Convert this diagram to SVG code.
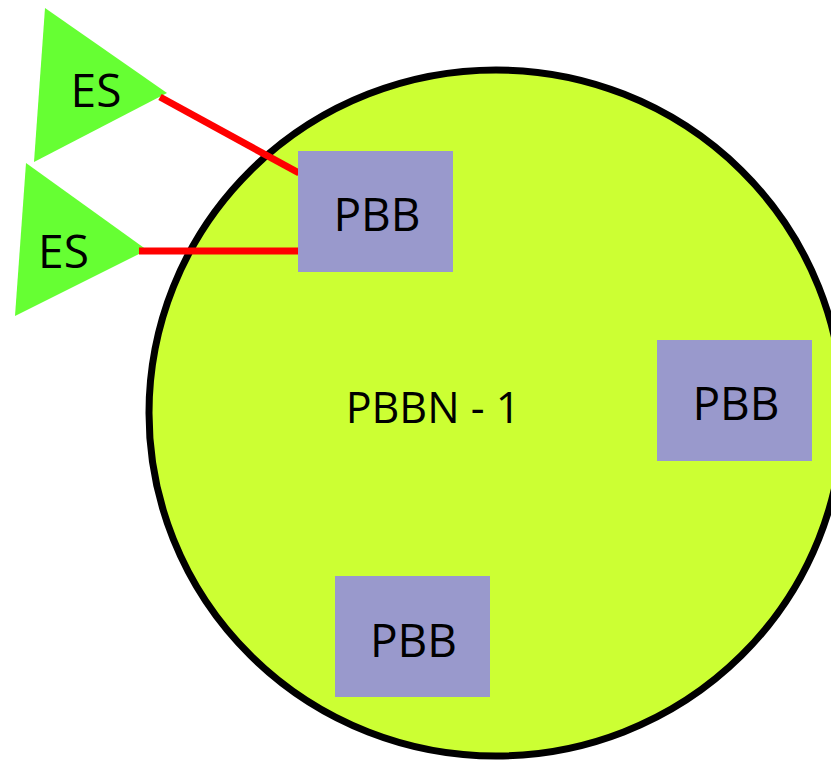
<svg xmlns="http://www.w3.org/2000/svg" width="831" height="760" viewBox="0 0 831 760">
<style>
.lbl{font-family:"Open Sans","Noto Sans","DejaVu Sans",sans-serif;font-size:46px;fill:#000;text-anchor:middle}
.pbb{fill:#9999CC}
.es{fill:#66FF33}
.link{stroke:#FF0000;stroke-width:7;fill:none}
</style>
<g id="pbbn1">
<ellipse cx="496" cy="413" rx="347" ry="343" fill="#CCFF33" stroke="#000" stroke-width="7"/>
<text class="lbl" x="433" y="423" style="font-size:43px">PBBN - 1</text>
</g>
<g id="es1">
<polygon class="es" points="45,8 34,162 167,93"/>
<text class="lbl" x="96" y="107">ES</text>
</g>
<g id="es2">
<polygon class="es" points="26,163 15,316 147,250"/>
<text class="lbl" x="63.5" y="268">ES</text>
</g>
<g id="connectors">
<line class="link" x1="160" y1="97" x2="299" y2="173"/>
<line class="link" x1="139" y1="251" x2="299" y2="251"/>
</g>
<g id="pbb1">
<rect class="pbb" x="298" y="151" width="155" height="121"/>
<text class="lbl" x="377" y="231">PBB</text>
</g>
<g id="pbb2">
<rect class="pbb" x="657" y="340" width="155" height="121"/>
<text class="lbl" x="736" y="420">PBB</text>
</g>
<g id="pbb3">
<rect class="pbb" x="335" y="576" width="155" height="121"/>
<text class="lbl" x="413.5" y="657">PBB</text>
</g>
</svg>
